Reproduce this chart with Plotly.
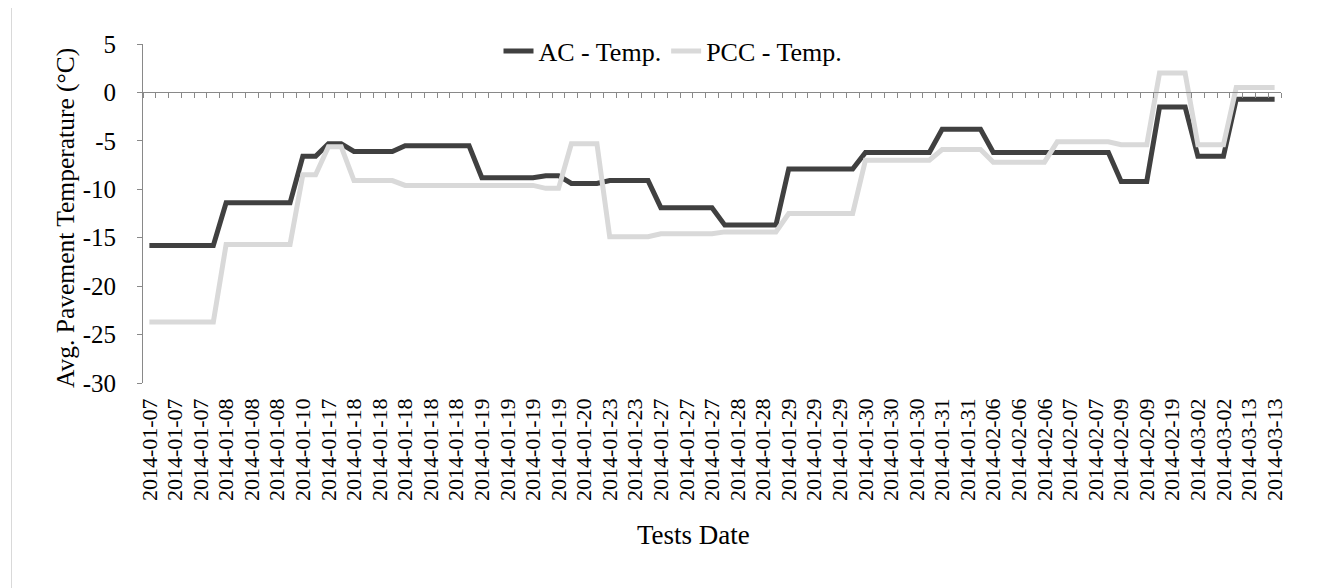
import plotly.graph_objects as go

# Test date of each measurement (89 tests)
dates = (
    ["2014-01-07"] * 6 + ["2014-01-08"] * 6 + ["2014-01-10"] * 2 + ["2014-01-17"] * 2 +
    ["2014-01-18"] * 10 + ["2014-01-19"] * 7 + ["2014-01-20"] * 3 + ["2014-01-23"] * 4 +
    ["2014-01-27"] * 5 + ["2014-01-28"] * 5 + ["2014-01-29"] * 6 + ["2014-01-30"] * 6 +
    ["2014-01-31"] * 4 + ["2014-02-06"] * 5 + ["2014-02-07"] * 5 + ["2014-02-09"] * 3 +
    ["2014-02-19"] * 3 + ["2014-03-02"] * 3 + ["2014-03-13"] * 4
)

ac_temp = [
    -15.8, -15.8, -15.8, -15.8, -15.8, -15.8,
    -11.4, -11.4, -11.4, -11.4, -11.4, -11.4,
    -6.6, -6.6, -5.3, -5.3,
    -6.1, -6.1, -6.1, -6.1,
    -5.5, -5.5, -5.5, -5.5, -5.5, -5.5,
    -8.8, -8.8, -8.8, -8.8, -8.8,
    -8.6, -8.6,
    -9.4, -9.4, -9.4,
    -9.1, -9.1, -9.1, -9.1,
    -11.9, -11.9, -11.9, -11.9, -11.9,
    -13.7, -13.7, -13.7, -13.7, -13.7,
    -7.9, -7.9, -7.9, -7.9, -7.9, -7.9,
    -6.2, -6.2, -6.2, -6.2, -6.2, -6.2,
    -3.8, -3.8, -3.8, -3.8,
    -6.2, -6.2, -6.2, -6.2, -6.2, -6.2, -6.2, -6.2, -6.2, -6.2,
    -9.2, -9.2, -9.2,
    -1.5, -1.5, -1.5,
    -6.6, -6.6, -6.6,
    -0.7, -0.7, -0.7, -0.7,
]

pcc_temp = [
    -23.7, -23.7, -23.7, -23.7, -23.7, -23.7,
    -15.7, -15.7, -15.7, -15.7, -15.7, -15.7,
    -8.5, -8.5, -5.6, -5.6,
    -9.1, -9.1, -9.1, -9.1,
    -9.6, -9.6, -9.6, -9.6, -9.6, -9.6, -9.6, -9.6, -9.6, -9.6, -9.6,
    -9.9, -9.9,
    -5.3, -5.3, -5.3,
    -14.9, -14.9, -14.9, -14.9,
    -14.6, -14.6, -14.6, -14.6, -14.6,
    -14.4, -14.4, -14.4, -14.4, -14.4,
    -12.5, -12.5, -12.5, -12.5, -12.5, -12.5,
    -7.0, -7.0, -7.0, -7.0, -7.0, -7.0,
    -5.9, -5.9, -5.9, -5.9,
    -7.2, -7.2, -7.2, -7.2, -7.2,
    -5.1, -5.1, -5.1, -5.1, -5.1,
    -5.4, -5.4, -5.4,
    2.0, 2.0, 2.0,
    -5.4, -5.4, -5.4,
    0.5, 0.5, 0.5, 0.5,
]

y_ticks = [5, 0, -5, -10, -15, -20, -25, -30]
y_tick_text = ["5", "0", "-5", "-10", "-15", "-20", "-25", "-30"]

n = len(dates)
idx = list(range(n))
label_idx = idx[::2]
boundaries = [i - 0.5 for i in range(n + 1)]

FONT = "Liberation Serif, Times New Roman, serif"
AXIS_GRAY = "#898989"

W, H = 1329, 588
ML, MR, MT, MB = 135, 56, 36, 213
PW, PH = W - ML - MR, H - MT - MB


def px_to_paper(px, py):
    return (px - ML) / PW, (H - MB - py) / PH


fig = go.Figure()
fig.add_trace(go.Scatter(
    x=idx, y=ac_temp, mode="lines", name="AC - Temp.",
    line=dict(color="#404040", width=5),
))
fig.add_trace(go.Scatter(
    x=idx, y=pcc_temp, mode="lines", name="PCC - Temp.",
    line=dict(color="#D9D9D9", width=5),
))
# invisible helper trace so the zero-line axis is rendered
fig.add_trace(go.Scatter(x=[idx[0]], y=[0], xaxis="x2", mode="markers",
                         marker=dict(opacity=0), showlegend=False, hoverinfo="skip"))

lx, ly = px_to_paper(665, 43)
tx, ty = px_to_paper(685, 527)
yx, yy = px_to_paper(57, 210)
bx0, by0 = px_to_paper(3.5, 0)
_, by1 = px_to_paper(3.5, H)

fig.update_layout(
    width=W, height=H,
    margin=dict(l=ML, r=MR, t=MT, b=MB),
    paper_bgcolor="white", plot_bgcolor="white",
    font=dict(family=FONT, color="black", size=25),
    showlegend=True,
    legend=dict(
        orientation="h", x=lx, xanchor="center", y=ly, yanchor="middle",
        font=dict(size=26, family=FONT), bgcolor="rgba(0,0,0,0)",
    ),
    xaxis=dict(
        range=[-0.5, n - 0.5], tickmode="array", tickvals=label_idx,
        ticktext=[dates[i] for i in label_idx], tickangle=-90,
        tickfont=dict(size=22, family=FONT), showline=False, ticks="",
        ticklabelstandoff=10,
        showgrid=False, zeroline=False,
    ),
    xaxis2=dict(
        overlaying="x", anchor="free", position=30 / 35, side="bottom",
        range=[-0.5, n - 0.5], tickmode="array", tickvals=boundaries,
        showticklabels=False, ticks="outside", ticklen=5, tickwidth=1,
        tickcolor=AXIS_GRAY, showline=True, linecolor=AXIS_GRAY, linewidth=1,
        showgrid=False, zeroline=False,
    ),
    yaxis=dict(
        range=[-30, 5], tickmode="array", tickvals=y_ticks, ticktext=y_tick_text,
        ticks="outside", ticklen=5, tickcolor=AXIS_GRAY,
        showline=True, linecolor=AXIS_GRAY, linewidth=1,
        showgrid=False, zeroline=False,
        tickfont=dict(size=25, family=FONT), ticklabelstandoff=16,
    ),
    annotations=[
        dict(text="Tests Date", xref="paper", yref="paper", x=tx, y=ty,
             xanchor="center", yanchor="middle", showarrow=False,
             font=dict(size=27, family=FONT)),
        dict(text="Avg. Pavement Temperature (°C)", xref="paper", yref="paper",
             x=yx, y=yy, xanchor="center", yanchor="middle", textangle=-90,
             showarrow=False, font=dict(size=25.5, family=FONT)),
    ],
    shapes=[
        dict(type="line", xref="paper", yref="paper", x0=bx0, x1=bx0, y0=by0, y1=by1,
             line=dict(color="#D9D9D9", width=1)),
    ],
)

fig.write_html("out.html")
